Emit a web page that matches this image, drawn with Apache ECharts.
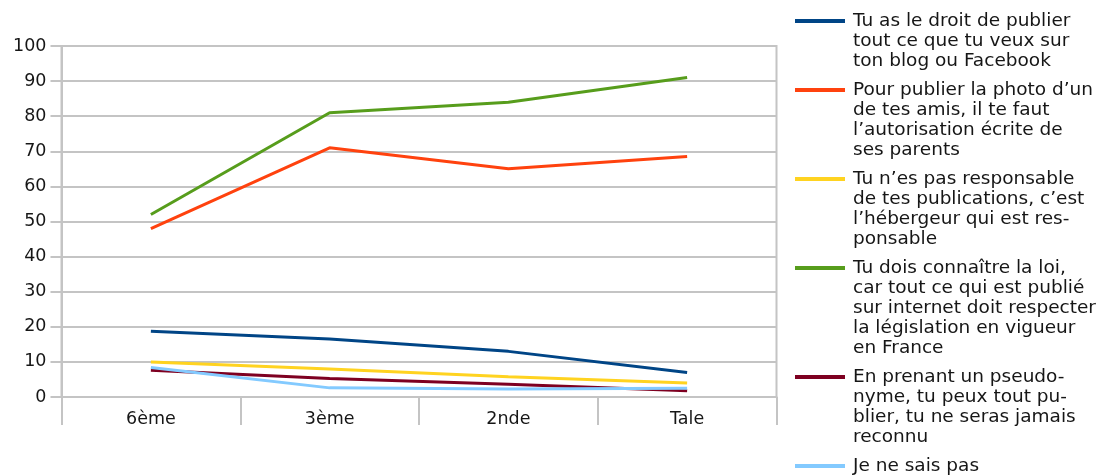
<!DOCTYPE html>
<html>
<head>
<meta charset="utf-8">
<script src="https://cdn.jsdelivr.net/npm/echarts@6/dist/echarts.min.js"></script>
<style>
html,body{margin:0;padding:0;background:#fff;}
#chart{width:1109px;height:475px;}
</style>
</head>
<body>
<div id="chart"></div>
<script>
// ---- Data ----
const categories = ['6ème', '3ème', '2nde', 'Tale'];
const seriesNames = [
  'Tu as le droit de publier\ntout ce que tu veux sur\nton blog ou Facebook',
  'Pour publier la photo d’un\nde tes amis, il te faut\nl’autorisation écrite de\nses parents',
  'Tu n’es pas responsable\nde tes publications, c’est\nl’hébergeur qui est res-\nponsable',
  'Tu dois connaître la loi,\ncar tout ce qui est publié\nsur internet doit respecter\nla législation en vigueur\nen France',
  'En prenant un pseudo-\nnyme, tu peux tout pu-\nblier, tu ne seras jamais\nreconnu',
  'Je ne sais pas'
];
const droitPublier   = [18.7, 16.5, 13.0, 7.0];
const autorisation   = [48, 71, 65, 68.5];
const pasResponsable = [10, 8, 5.8, 4];
const connaitreLoi   = [52, 81, 84, 91];
const pseudonyme     = [7.6, 5.3, 3.6, 1.8];
const neSaisPas      = [8.4, 2.6, 2.3, 2.5];
const yTicks = { min: 0, max: 100, interval: 10 };

const seriesValues = [droitPublier, autorisation, pasResponsable, connaitreLoi, pseudonyme, neSaisPas];
const colors = ['#004586', '#ff420e', '#ffd320', '#579d1c', '#7e0021', '#83caff'];

// ---- Styling ----
const FONT = 'DejaVu Sans';
const TEXT = '#161616';
const GRID = '#c4c4c4';
const LH = 20;

const chart = echarts.init(document.getElementById('chart'), null, { renderer: 'canvas' });

// one legend per entry so the line icon sits at the first text line
const legends = [];
let legendTop = 11;
seriesNames.forEach((name, i) => {
  const n = name.split('\n').length;
  const h = n * LH;
  const y0 = LH / 2 - 2, y1 = LH / 2 + 2;
  const icon = 'path://M0,0 L0,0 Z M0,' + y0 + ' L50,' + y0 +
               ' L50,' + y1 + ' L0,' + y1 + ' Z M50,' + h + ' L50,' + h + ' Z';
  legends.push({
    orient: 'vertical',
    left: 795,
    top: legendTop,
    padding: 0,
    itemWidth: 50,
    itemHeight: h,
    symbolKeepAspect: false,
    selectedMode: false,
    icon: icon,
    data: [{ name: name, icon: icon, itemStyle: { color: colors[i], borderWidth: 0 } }],
    textStyle: { fontFamily: FONT, fontSize: 18.5, lineHeight: LH, color: TEXT, padding: [0, 0, 0, 3] }
  });
  legendTop += h + 9;
});

const option = {
  backgroundColor: '#ffffff',
  animation: false,
  color: colors,
  grid: {
    left: 61.5, right: 332.5, top: 46, bottom: 78,
    show: true, borderColor: GRID, borderWidth: 2, backgroundColor: 'transparent'
  },
  legend: legends,
  xAxis: {
    type: 'category',
    data: categories,
    boundaryGap: true,
    axisLine: { show: true, lineStyle: { color: GRID, width: 2 } },
    axisTick: { show: true, alignWithLabel: false, interval: 0, length: 28, lineStyle: { color: GRID, width: 2 } },
    axisLabel: { fontFamily: FONT, fontSize: 17.5, color: TEXT, margin: 13 },
    splitLine: { show: false }
  },
  yAxis: {
    type: 'value',
    min: yTicks.min, max: yTicks.max, interval: yTicks.interval,
    axisLine: { show: true, lineStyle: { color: GRID, width: 2 } },
    axisTick: { show: true, length: 11, lineStyle: { color: GRID, width: 2 } },
    axisLabel: { fontFamily: FONT, fontSize: 17.5, color: TEXT, margin: 15 },
    splitLine: { show: true, lineStyle: { color: GRID, width: 2 } }
  },
  series: seriesNames.map((name, i) => ({
    name: name,
    type: 'line',
    data: seriesValues[i],
    showSymbol: false,
    symbol: 'none',
    lineStyle: { color: colors[i], width: 3 },
    itemStyle: { color: colors[i] },
    emphasis: { disabled: true }
  }))
};

chart.setOption(option);
</script>
</body>
</html>
